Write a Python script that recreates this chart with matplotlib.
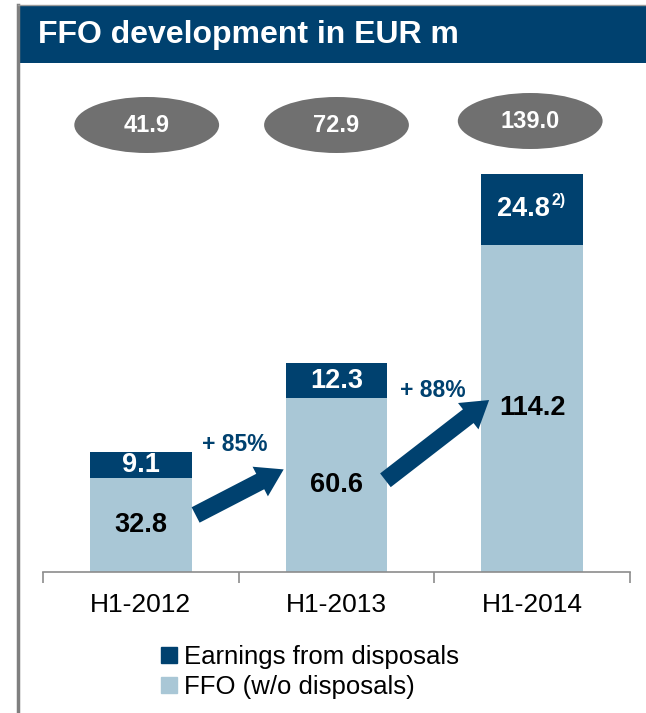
import matplotlib.pyplot as plt
from matplotlib.patches import Ellipse, Patch, Rectangle
from matplotlib.lines import Line2D

plt.rcParams['font.family'] = ['Liberation Sans', 'DejaVu Sans']

periods = ["H1-2012", "H1-2013", "H1-2014"]
ffo = [32.8, 60.6, 114.2]
disposals = [9.1, 12.3, 24.8]
totals = [41.9, 72.9, 139.0]
growth = ["+ 85%", "+ 88%"]

dark = "#00416F"
light = "#A9C7D6"
grey = "#707070"

W, H = 646, 713
fig = plt.figure(figsize=(W / 100, H / 100), dpi=100)

# frame and title bar
fig.add_artist(Line2D([18 / W, 18 / W], [0, 1 - 5 / H], color="#7f7f7f", lw=2.5))
fig.add_artist(Line2D([18 / W, 1], [1 - 5 / H, 1 - 5 / H], color="#9a9a9a", lw=1))
fig.add_artist(Rectangle((18 / W, 1 - 63 / H), 1, 58 / H, color=dark, lw=0))
fig.text(38 / W, 1 - 35 / H, "FFO development in EUR m", color="white",
         fontsize=23, fontweight="bold", va="center", ha="left")

# axes: baseline at y=572px, top at 80px
x0, x1 = 43, 630
yb, yt = 572, 80
pxu = 2.866  # pixels per EUR m
ax = fig.add_axes([x0 / W, 1 - yb / H, (x1 - x0) / W, (yb - yt) / H])
ax.set_xlim(-0.5, 2.5)
ax.set_ylim(0, (yb - yt) / pxu)

xs = range(len(periods))
bw = 0.52
ax.bar(xs, ffo, width=bw, color=light, label="FFO (w/o disposals)")
ax.bar(xs, disposals, width=bw, bottom=ffo, color=dark, label="Earnings from disposals")

ell_dx = [0.03, 0.0, -0.01]
ell_y = [125, 125, 121]
for i in xs:
    ax.text(i, ffo[i] / 2, f"{ffo[i]:.1f}", ha="center", va="center", fontsize=19.5,
            fontweight="bold", color="black")
    if i == 2:
        t = ax.text(i - 0.045, ffo[i] + disposals[i] / 2, f"{disposals[i]:.1f}", ha="center",
                    va="center", fontsize=19.5, fontweight="bold", color="white")
        ax.annotate("2)", xy=(1, 1), xycoords=t, ha="left", va="top", fontsize=11.5,
                    fontweight="bold", color="white", xytext=(1, 2), textcoords="offset points")
    else:
        ax.text(i, ffo[i] + disposals[i] / 2, f"{disposals[i]:.1f}", ha="center",
                va="center", fontsize=19.5, fontweight="bold", color="white")
    # total ellipse
    ey = (yb - ell_y[i]) / pxu
    ax.add_patch(Ellipse((i + ell_dx[i], ey), 0.74, 56 / pxu, color=grey, lw=0, clip_on=False))
    ax.text(i + ell_dx[i], ey, f"{totals[i]:.1f}", ha="center", va="center", fontsize=17,
            fontweight="bold", color="white")

# growth arrows
arrows = [((0.28, 19.9), (0.73, 35.8)), ((1.25, 32.0), (1.78, 60.0))]
labels_pos = [(0.48, 44.5), (1.49, 63.5)]
for (s, e), lp, g in zip(arrows, labels_pos, growth):
    ax.annotate("", xy=e, xytext=s,
                arrowprops=dict(arrowstyle="simple,head_width=2.4,head_length=1.9,tail_width=1.25",
                                mutation_scale=10, color=dark, lw=0, shrinkA=0, shrinkB=0))
    ax.text(lp[0], lp[1], g, ha="center", va="center", fontsize=16.5, fontweight="bold", color=dark)

# x axis
for side in ["top", "right", "left"]:
    ax.spines[side].set_visible(False)
ax.spines["bottom"].set_color("#8c8c8c")
ax.spines["bottom"].set_linewidth(1.2)
ax.set_yticks([])
ax.set_xticks(list(xs))
ax.set_xticklabels(periods, fontsize=19)
ax.tick_params(axis="x", which="major", length=0, pad=15)
ax.set_xticks([-0.5, 0.5, 1.5, 2.5], minor=True)
ax.tick_params(axis="x", which="minor", length=8, color="#8c8c8c", width=1.2)

handles = [Patch(color=dark, label="Earnings from disposals"),
           Patch(color=light, label="FFO (w/o disposals)")]
fig.legend(handles=handles, loc="upper left", bbox_to_anchor=(151 / W, 1 - 635 / H),
           frameon=False, fontsize=18.5, handlelength=0.6, handleheight=0.6,
           handletextpad=0.3, labelspacing=0.22, borderaxespad=0)

fig.savefig("out.png", dpi=100)
